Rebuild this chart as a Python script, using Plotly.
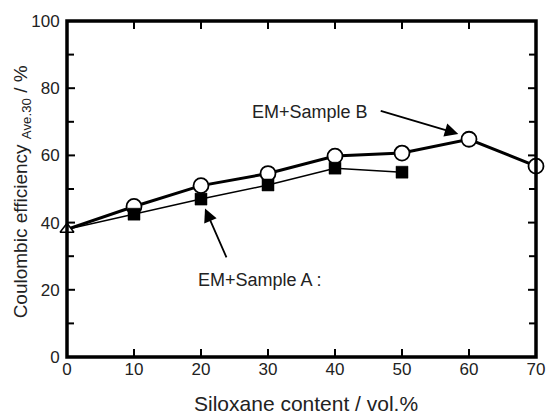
import plotly.graph_objects as go

# Data
x_b = [10, 20, 30, 40, 50, 60, 70]
y_b = [44.8, 51.0, 54.6, 59.8, 60.7, 64.8, 56.8]
x_a = [10, 20, 30, 40, 50]
y_a = [42.5, 47.0, 51.2, 56.2, 55.0]
x0 = [0]
y0 = [38.0]

xtick_vals = [0, 10, 20, 30, 40, 50, 60, 70]
ytick_vals = [0, 20, 40, 60, 80, 100]
ytick_minor = [10, 30, 50, 70, 90]

INK = "#000000"
TXT = "#222222"
FONT = "Liberation Sans, Arial, sans-serif"

fig = go.Figure()

fig.add_trace(go.Scatter(
    x=x0 + x_b, y=y0 + y_b, mode="lines",
    line=dict(color=INK, width=3), cliponaxis=False, showlegend=False))
fig.add_trace(go.Scatter(
    x=x_b, y=y_b, mode="markers",
    marker=dict(symbol="circle", size=15, color="white",
                line=dict(color=INK, width=1.8)),
    cliponaxis=False, showlegend=False))
fig.add_trace(go.Scatter(
    x=x0 + x_a, y=y0 + y_a, mode="lines",
    line=dict(color=INK, width=1.5), cliponaxis=False, showlegend=False))
fig.add_trace(go.Scatter(
    x=x_a, y=y_a, mode="markers",
    marker=dict(symbol="square", size=12, color="#000000",
                line=dict(color="#000000", width=0.5)),
    cliponaxis=False, showlegend=False))
fig.add_trace(go.Scatter(
    x=x0, y=y0, mode="markers",
    marker=dict(symbol="triangle-up", size=12, color="white",
                line=dict(color=INK, width=1.5)),
    cliponaxis=False, showlegend=False))

xaxis = dict(
    range=[0, 70], tickmode="array", tickvals=xtick_vals,
    showline=False, ticks="", showgrid=False, zeroline=False,
    tickfont=dict(family=FONT, size=17, color=TXT),
)
yaxis = dict(
    range=[0, 100], tickmode="array", tickvals=ytick_vals,
    showline=False, ticks="outside", ticklen=3, tickcolor="rgba(0,0,0,0)",
    showgrid=False, zeroline=False,
    tickfont=dict(family=FONT, size=17, color=TXT),
)

shapes = []
TL = 8
for v in xtick_vals[1:-1]:
    shapes.append(dict(type="line", xref="x", yref="paper", x0=v, x1=v,
                       ysizemode="pixel", yanchor=0, y0=0, y1=TL,
                       line=dict(color=INK, width=2), layer="above"))
    shapes.append(dict(type="line", xref="x", yref="paper", x0=v, x1=v,
                       ysizemode="pixel", yanchor=1, y0=0, y1=-TL,
                       line=dict(color=INK, width=2), layer="above"))
for v, tl in [(t, TL) for t in ytick_vals[1:-1]] + [(t, TL - 1) for t in ytick_minor]:
    shapes.append(dict(type="line", yref="y", xref="paper", y0=v, y1=v,
                       xsizemode="pixel", xanchor=0, x0=0, x1=tl,
                       line=dict(color=INK, width=2), layer="above"))
    shapes.append(dict(type="line", yref="y", xref="paper", y0=v, y1=v,
                       xsizemode="pixel", xanchor=1, x0=0, x1=-tl,
                       line=dict(color=INK, width=2), layer="above"))
shapes.append(dict(type="rect", xref="paper", yref="paper", x0=0, x1=1, y0=0, y1=1,
                   line=dict(color=INK, width=3.5), layer="above"))

annotations = [
    dict(x=58.4, y=66.4, ax=46.6, ay=73.4, axref="x", ayref="y", xref="x", yref="y",
         text="", showarrow=True, arrowhead=2, arrowsize=1.5, arrowwidth=1.8,
         arrowcolor=INK, standoff=0),
    dict(x=36.3, y=72.9, xref="x", yref="y", text="EM+Sample B", showarrow=False,
         font=dict(family=FONT, size=18, color=TXT)),
    dict(x=20.6, y=44.2, ax=23.9, ay=29.2, axref="x", ayref="y", xref="x", yref="y",
         text="", showarrow=True, arrowhead=2, arrowsize=1.5, arrowwidth=1.8,
         arrowcolor=INK, standoff=0),
    dict(x=19.3, y=23.0, xref="x", yref="y", xanchor="left", text="EM+Sample A :",
         showarrow=False, font=dict(family=FONT, size=18, color=TXT)),
    dict(x=0.509, y=0, xref="paper", yref="paper", yshift=-46, text="Siloxane content / vol.%",
         showarrow=False, font=dict(family=FONT, size=21, color=TXT), yanchor="middle"),
    dict(x=0, y=0.49, xref="paper", yref="paper", xshift=-45,
         text="Coulombic efficiency <sub>Ave.30</sub> / %", textangle=-90,
         showarrow=False, font=dict(family=FONT, size=19, color=TXT), xanchor="center"),
]

fig.update_layout(
    width=557, height=416,
    margin=dict(l=67, r=13, t=18, b=59),
    paper_bgcolor="white", plot_bgcolor="white",
    xaxis=xaxis, yaxis=yaxis,
    shapes=shapes,
    annotations=annotations,
    font=dict(family=FONT, color=TXT),
)

fig.write_html("out.html")
